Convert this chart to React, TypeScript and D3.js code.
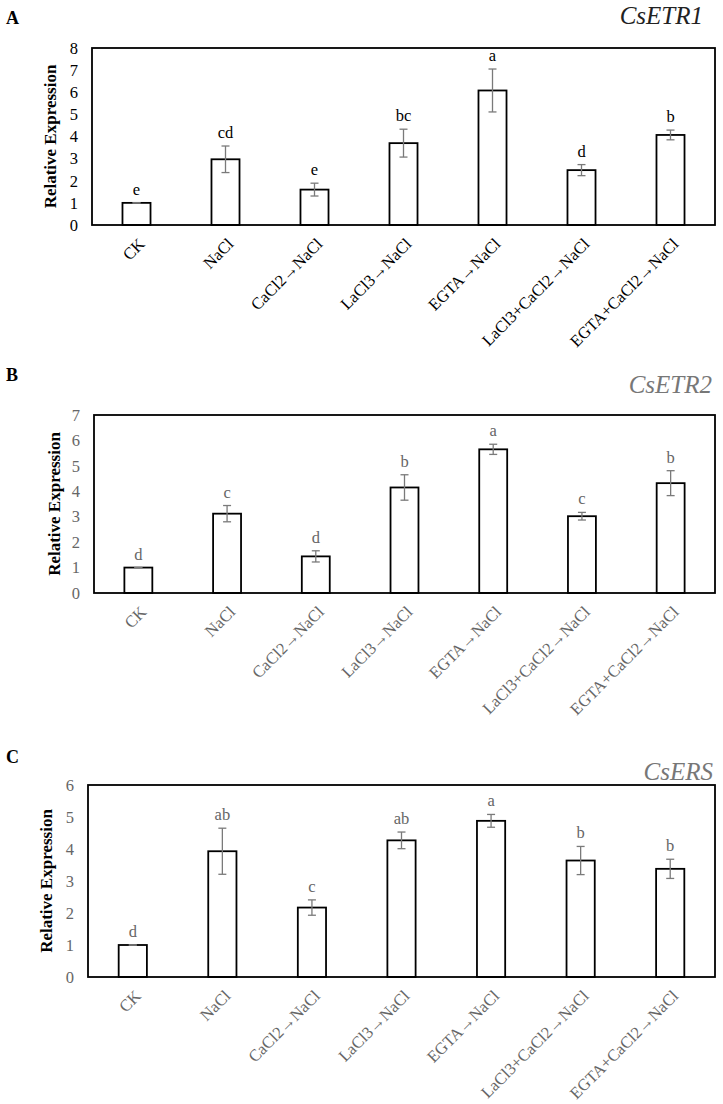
import * as d3 from 'd3';
import { useEffect, useRef } from 'react';

// treatments on the x axis (same for all three genes)
const categories = [
  'CK',
  'NaCl',
  'CaCl2→NaCl',
  'LaCl3→NaCl',
  'EGTA→NaCl',
  'LaCl3+CaCl2→NaCl',
  'EGTA+CaCl2→NaCl',
];

// A - CsETR1
const etr1Values = [1.0, 2.97, 1.6, 3.7, 6.08, 2.48, 4.07];
const etr1Errors = [0, 0.6, 0.29, 0.63, 0.97, 0.25, 0.22];
const etr1Letters = ['e', 'cd', 'e', 'bc', 'a', 'd', 'b'];
const etr1Ticks = [0, 1, 2, 3, 4, 5, 6, 7, 8];

// B - CsETR2
const etr2Values = [1.0, 3.12, 1.44, 4.15, 5.65, 3.02, 4.32];
const etr2Errors = [0, 0.32, 0.22, 0.5, 0.2, 0.15, 0.49];
const etr2Letters = ['d', 'c', 'd', 'b', 'a', 'c', 'b'];
const etr2Ticks = [0, 1, 2, 3, 4, 5, 6, 7];

// C - CsERS
const ersValues = [1.0, 3.93, 2.17, 4.27, 4.88, 3.64, 3.38];
const ersErrors = [0, 0.72, 0.24, 0.26, 0.2, 0.44, 0.3];
const ersLetters = ['d', 'ab', 'c', 'ab', 'a', 'b', 'b'];
const ersTicks = [0, 1, 2, 3, 4, 5, 6];

const W = 723;
const H = 1104;
const serif = '"Liberation Serif", "Times New Roman", serif';

const panels = [
  {
    tag: 'A', gene: 'CsETR1', values: etr1Values, errors: etr1Errors, letters: etr1Letters, ticks: etr1Ticks,
    tagY: 24, geneX: 703, geneY: 24, left: 92, right: 715, top: 48, bottom: 225, titleX: 50,
    ink: '#000', geneInk: '#222',
  },
  {
    tag: 'B', gene: 'CsETR2', values: etr2Values, errors: etr2Errors, letters: etr2Letters, ticks: etr2Ticks,
    tagY: 381, geneX: 712, geneY: 393, left: 94, right: 715, top: 415, bottom: 593, titleX: 54,
    ink: '#666', geneInk: '#777',
  },
  {
    tag: 'C', gene: 'CsERS', values: ersValues, errors: ersErrors, letters: ersLetters, ticks: ersTicks,
    tagY: 763, geneX: 713, geneY: 780, left: 88, right: 715, top: 785, bottom: 977, titleX: 46,
    ink: '#666', geneInk: '#777',
  },
];

export default function App() {
  const svgRef = useRef<SVGSVGElement | null>(null);

  useEffect(() => {
    if (!svgRef.current) return;
    const svg = d3.select(svgRef.current);
    svg.selectAll('*').remove();

    svg.append('rect').attr('width', W).attr('height', H).attr('fill', '#fff');

    panels.forEach((p) => {
      const g = svg.append('g').attr('font-family', serif);

      const x = d3.scaleBand().domain(categories).range([p.left, p.right]);
      const y = d3.scaleLinear()
        .domain([0, p.ticks[p.ticks.length - 1]])
        .range([p.bottom, p.top]);
      const barW = x.bandwidth() * 0.315;

      // panel tag + gene name
      g.append('text')
        .attr('x', 6).attr('y', p.tagY)
        .attr('font-size', 18).attr('font-weight', 'bold')
        .text(p.tag);
      g.append('text')
        .attr('x', p.geneX).attr('y', p.geneY)
        .attr('text-anchor', 'end')
        .attr('font-size', 25).attr('font-style', 'italic')
        .attr('fill', p.geneInk)
        .text(p.gene);

      // y axis (labels only, no tick marks)
      g.append('g')
        .attr('transform', `translate(${p.left},0)`)
        .call(d3.axisLeft(y).tickValues(p.ticks).tickSize(0).tickPadding(14).tickFormat(d3.format('d')))
        .call((a) => a.select('.domain').remove())
        .call((a) => a.selectAll('text')
          .attr('font-family', serif).attr('font-size', 16.5).attr('fill', p.ink));

      // y title
      g.append('text')
        .attr('transform', `translate(${p.titleX},${(p.top + p.bottom) / 2}) rotate(-90)`)
        .attr('text-anchor', 'middle')
        .attr('dy', '0.35em')
        .attr('font-size', 17).attr('font-weight', 'bold')
        .text('Relative Expression');

      // bars
      g.selectAll('rect.bar')
        .data(p.values)
        .join('rect')
        .attr('class', 'bar')
        .attr('x', (_, i) => x(categories[i])! + x.bandwidth() / 2 - barW / 2)
        .attr('y', (d) => y(d))
        .attr('width', barW)
        .attr('height', (d) => p.bottom - y(d))
        .attr('fill', '#fff')
        .attr('stroke', '#000')
        .attr('stroke-width', 1.8);

      // error bars + letters
      const cap = 4;
      p.values.forEach((v, i) => {
        const cx = x(categories[i])! + x.bandwidth() / 2;
        const e = p.errors[i];
        const hi = y(v + e);
        const lo = y(v - e);
        const eg = g.append('g').attr('stroke', '#7a7a7a').attr('stroke-width', 1.3);
        eg.append('line').attr('x1', cx).attr('x2', cx).attr('y1', hi).attr('y2', lo);
        eg.append('line').attr('x1', cx - cap).attr('x2', cx + cap).attr('y1', hi).attr('y2', hi);
        eg.append('line').attr('x1', cx - cap).attr('x2', cx + cap).attr('y1', lo).attr('y2', lo);

        g.append('text')
          .attr('x', cx).attr('y', hi - 8)
          .attr('text-anchor', 'middle')
          .attr('font-size', 16.5)
          .attr('fill', p.ink)
          .text(p.letters[i]);
      });

      // frame
      g.append('rect')
        .attr('x', p.left).attr('y', p.top)
        .attr('width', p.right - p.left).attr('height', p.bottom - p.top)
        .attr('fill', 'none').attr('stroke', '#000').attr('stroke-width', 1.8);

      // x labels, rotated
      g.append('g')
        .attr('transform', `translate(0,${p.bottom})`)
        .call(d3.axisBottom(x).tickSize(0).tickPadding(0))
        .call((a) => a.select('.domain').remove())
        .call((a) => a.selectAll('text')
          .attr('font-family', serif).attr('font-size', 16.5).attr('fill', p.ink)
          .attr('text-anchor', 'end')
          .attr('x', 0).attr('y', 0).attr('dy', '0.35em')
          .attr('transform', 'translate(5,16) rotate(-45)'));
    });
  }, []);

  return (
    <div style={{ position: 'absolute', left: 0, top: 0 }}>
      <svg ref={svgRef} width={W} height={H} style={{ display: 'block' }} />
    </div>
  );
}
